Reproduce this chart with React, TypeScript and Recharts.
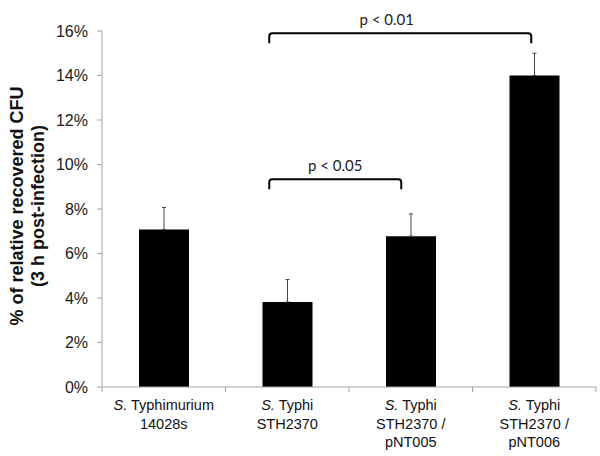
import { Bar, BarChart, ErrorBar, ReferenceLine, XAxis, YAxis } from 'recharts'

// categories, read left to right
const categories = ['S. Typhimurium 14028s', 'S. Typhi STH2370', 'S. Typhi STH2370 / pNT005', 'S. Typhi STH2370 / pNT006']
const species = ['Typhimurium', 'Typhi', 'Typhi', 'Typhi']
const strainLines = [['14028s'], ['STH2370'], ['STH2370 /', 'pNT005'], ['STH2370 /', 'pNT006']]

// % of relative recovered CFU, and the upper error (one-sided)
const recovered = [7.08, 3.82, 6.78, 14.0]
const errorUp = [0.99, 1.01, 1.0, 1.0]

const yTicks = [0, 2, 4, 6, 8, 10, 12, 14, 16]

// significance brackets between categories; y in %
const brackets = [
  { label: 'p < 0.01', from: 1, to: 3, y: 15.9, dx1: -18, dx2: -3, labelAt: 0.448 },
  { label: 'p < 0.05', from: 1, to: 2, y: 9.34, dx1: -18, dx2: -9.5, labelAt: 0.5 },
]

const AXIS_GRAY = '#a3a3a3'
const FONT = '"Liberation Sans", Arial, sans-serif'

const data = categories.map((name, i) => ({ name, value: recovered[i], err: [0, errorUp[i]] }))

function CatTick({ x, y, payload, width, visibleTicksCount }: any) {
  const i = categories.indexOf(payload.value)
  if (i < 0) return <g />
  // tick marks sit on the category boundaries, not the centres
  const half = payload.offset ?? (width && visibleTicksCount ? width / visibleTicksCount / 2 : 61.75)
  return (
    <g transform={`translate(${x},${y})`}>
      <line x1={-half} x2={-half} y1={0} y2={5} stroke={AXIS_GRAY} />
      {i === categories.length - 1 && <line x1={half} x2={half} y1={0} y2={5} stroke={AXIS_GRAY} />}
      <text textAnchor="middle" fontSize={14.5} fill="#111" fontFamily={FONT}>
        <tspan x={0} y={23}>
          <tspan fontStyle="italic">S.</tspan>
          {' ' + species[i]}
        </tspan>
        {strainLines[i].map((s, k) => (
          <tspan key={k} x={0} y={41.5 + 18.3 * k}>{s}</tspan>
        ))}
      </text>
    </g>
  )
}

function Bracket(props: any) {
  const { x1: ax, y1, x2: bx, dx1, dx2, label, labelAt } = props
  const x1 = ax + dx1
  const x2 = bx + dx2
  const leg = 10
  const r = 3
  const d = `M${x1},${y1 + leg} L${x1},${y1 + r} Q${x1},${y1} ${x1 + r},${y1} L${x2 - r},${y1} Q${x2},${y1} ${x2},${y1 + r} L${x2},${y1 + leg}`
  return (
    <g>
      <path d={d} fill="none" stroke="#000" strokeWidth={2} />
      <text x={x1 + (x2 - x1) * labelAt} y={y1 - 8} textAnchor="middle" fontSize={15}
        fill="#222" fontFamily="Lato, 'Open Sans', sans-serif">{label}</text>
    </g>
  )
}

export default function App() {
  const cy = 206
  return (
    <div style={{ position: 'absolute', left: 0, top: 0, width: 600, height: 456, background: '#fff' }}>
      <BarChart width={600} height={456} data={data} margin={{ top: 31, right: 4, bottom: 0, left: 0 }}>
        <XAxis xAxisId="cat" dataKey="name" type="category" height={69}
          axisLine={{ stroke: AXIS_GRAY }} tickLine={false} tickSize={0} tickMargin={0}
          interval={0} tick={<CatTick />} />
        <YAxis domain={[0, 16]} ticks={yTicks} width={102} tickSize={5} tickMargin={9}
          axisLine={{ stroke: AXIS_GRAY }} tickLine={{ stroke: AXIS_GRAY }}
          tickFormatter={(v) => `${v}%`}
          tick={{ fill: '#1a1a1a', fontSize: 16, fontFamily: FONT }} />
        <Bar xAxisId="cat" dataKey="value" fill="#000" barSize={50} isAnimationActive={false}>
          <ErrorBar dataKey="err" width={2} stroke="#444" strokeWidth={1} direction="y" />
        </Bar>
        {brackets.map((b) => (
          <ReferenceLine key={b.label} xAxisId="cat" ifOverflow="visible"
            segment={[{ x: categories[b.from], y: b.y }, { x: categories[b.to], y: b.y }]}
            shape={(p: any) => <Bracket {...p} dx1={b.dx1} dx2={b.dx2} label={b.label} labelAt={b.labelAt} />} />
        ))}
      </BarChart>
      <svg width={60} height={456} style={{ position: 'absolute', left: 0, top: 0 }}>
        <g fontSize={18} fontWeight={700} fill="#111" fontFamily={FONT} textAnchor="middle">
          <text x={23} y={cy} transform={`rotate(-90, 23, ${cy})`}>% of relative recovered CFU</text>
          <text x={44} y={cy} transform={`rotate(-90, 44, ${cy})`}>(3 h post-infection)</text>
        </g>
      </svg>
    </div>
  )
}
